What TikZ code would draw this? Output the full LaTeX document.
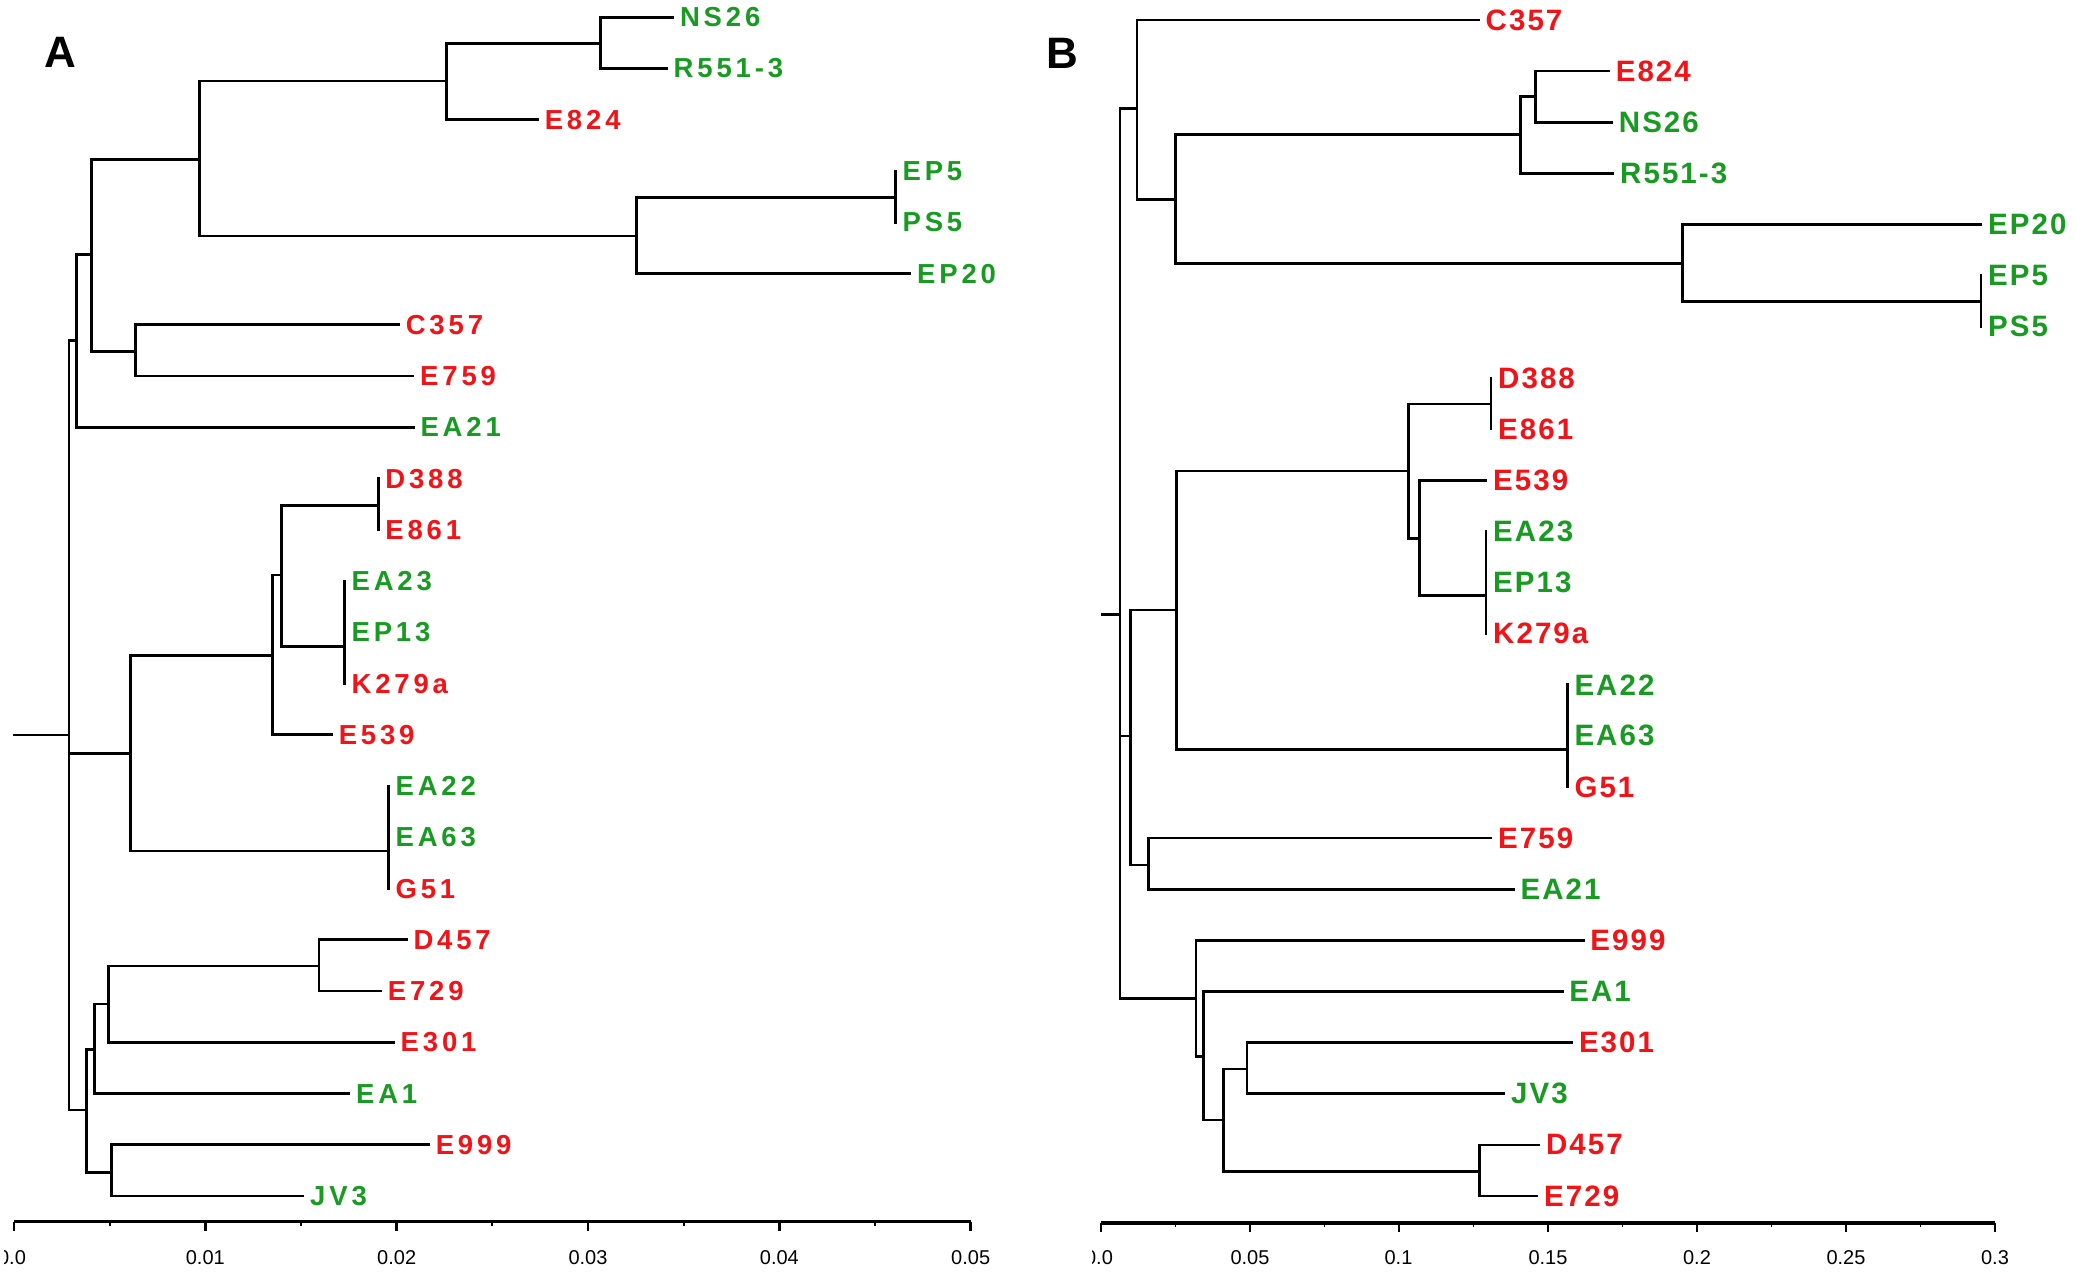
\documentclass[tikz,border=0pt]{standalone}
\usepackage{fontspec}
\setmainfont{Liberation Sans}
\newfontfamily\labAfont{Liberation Sans}[LetterSpace=14]
\newfontfamily\labBfont{Liberation Sans}[LetterSpace=7]
\definecolor{tred}{RGB}{240,20,25}
\definecolor{tgreen}{RGB}{25,155,35}
\begin{document}
\begin{tikzpicture}[x=1pt,y=-1pt,
  br/.style={line width=2.7pt,line cap=rect,black},
  axisline/.style={line width=3.4pt,black},
  leafA/.style={anchor=west,inner xsep=7pt,inner ysep=0pt,font=\labAfont\bfseries\fontsize{27.5}{29}\selectfont},
  leafB/.style={anchor=west,inner xsep=7pt,inner ysep=0pt,font=\labBfont\bfseries\fontsize{29.5}{31}\selectfont},
  rA/.style={leafA,text=tred}, gA/.style={leafA,text=tgreen},
  rB/.style={leafB,text=tred}, gB/.style={leafB,text=tgreen},
  ticklab/.style={font=\fontsize{20}{22}\selectfont,inner sep=0pt},
  panel/.style={font=\bfseries\fontsize{44}{46}\selectfont,inner sep=0pt}]
\useasboundingbox (0,0) rectangle (2075,1272);
\fill[white] (0,0) rectangle (2075,1272);

% ================= Panel A =================
\node[panel] (labA) at (60,52.5) {A};
% leaves
\node[gA] (A-NS26)  at (672.8,17.3)   {NS26};
\node[gA] (A-R551)  at (666.5,68.55)  {R551-3};
\node[rA] (A-E824)  at (537.6,119.8)  {E824};
\node[gA] (A-EP5)   at (895.4,171.05) {EP5};
\node[gA] (A-PS5)   at (895.4,222.3)  {PS5};
\node[gA] (A-EP20)  at (910,273.55)   {EP20};
\node[rA] (A-C357)  at (398.6,324.8)  {C357};
\node[rA] (A-E759)  at (413,376.05)   {E759};
\node[gA] (A-EA21)  at (413.3,427.3)  {EA21};
\node[rA] (A-D388)  at (378.2,478.55) {D388};
\node[rA] (A-E861)  at (378.2,529.8)  {E861};
\node[gA] (A-EA23)  at (344.4,581.05) {EA23};
\node[gA] (A-EP13)  at (344.4,632.3)  {EP13};
\node[rA] (A-K279a) at (344.4,683.55) {K279a};
\node[rA] (A-E539)  at (331.6,734.8)  {E539};
\node[gA] (A-EA22)  at (388.4,786.05) {EA22};
\node[gA] (A-EA63)  at (388.4,837.3)  {EA63};
\node[rA] (A-G51)   at (388.4,888.55) {G51};
\node[rA] (A-D457)  at (406.3,939.8)  {D457};
\node[rA] (A-E729)  at (380.7,991.05) {E729};
\node[rA] (A-E301)  at (393.5,1042.3) {E301};
\node[gA] (A-EA1)   at (348.9,1093.55){EA1};
\node[rA] (A-E999)  at (428.6,1144.8) {E999};
\node[gA] (A-JV3)   at (303,1196.05)  {JV3};
% internal nodes
\coordinate (a-ns)   at (600.8,43.3);
\coordinate (a-e824) at (446.4,81);
\coordinate (a-ep5)  at (895.4,197.7);
\coordinate (a-ep20) at (636.5,236);
\coordinate (a-big)  at (199.6,159.3);
\coordinate (a-c357) at (135.8,351.7);
\coordinate (a-top2) at (91.8,254.3);
\coordinate (a-top1) at (76.5,340.7);
\coordinate (a-root) at (69,735);
\coordinate (a-stub) at (14,735);
\coordinate (a-mid)  at (130.7,753.3);
\coordinate (a-k)    at (272.3,655.7);
\coordinate (a-kk)   at (281.3,575);
\coordinate (a-d388) at (378.2,505.7);
\coordinate (a-ea23) at (344.4,646.7);
\coordinate (a-ea22) at (388.4,851);
\coordinate (a-low)  at (86.7,1110);
\coordinate (a-l1)   at (94.4,1049.3);
\coordinate (a-l3)   at (108.4,1004);
\coordinate (a-d457) at (318.9,966);
\coordinate (a-l2)   at (111.6,1172.3);
% branches
\draw[br] (a-ns) |- (A-NS26.west);
\draw[br] (a-ns) |- (A-R551.west);
\draw[br] (a-e824) |- (a-ns);
\draw[br] (a-e824) |- (A-E824.west);
\draw[br] (a-ep5) |- (A-EP5.west);
\draw[br] (a-ep5) |- (A-PS5.west);
\draw[br] (a-ep20) |- (a-ep5);
\draw[br] (a-ep20) |- (A-EP20.west);
\draw[br] (a-big) |- (a-e824);
\draw[br] (a-big) |- (a-ep20);
\draw[br] (a-c357) |- (A-C357.west);
\draw[br] (a-c357) |- (A-E759.west);
\draw[br] (a-top2) |- (a-big);
\draw[br] (a-top2) |- (a-c357);
\draw[br] (a-top1) |- (a-top2);
\draw[br] (a-top1) |- (A-EA21.west);
\draw[br] (a-root) |- (a-top1);
\draw[br] (a-root) |- (a-mid);
\draw[br] (a-root) |- (a-low);
\draw[br] (a-stub) -- (a-root);
\draw[br] (a-mid) |- (a-k);
\draw[br] (a-mid) |- (a-ea22);
\draw[br] (a-k) |- (a-kk);
\draw[br] (a-k) |- (A-E539.west);
\draw[br] (a-kk) |- (a-d388);
\draw[br] (a-kk) |- (a-ea23);
\draw[br] (a-d388) |- (A-D388.west);
\draw[br] (a-d388) |- (A-E861.west);
\draw[br] (a-ea23) |- (A-EA23.west);
\draw[br] (a-ea23) |- (A-EP13.west);
\draw[br] (a-ea23) |- (A-K279a.west);
\draw[br] (a-ea22) |- (A-EA22.west);
\draw[br] (a-ea22) |- (A-EA63.west);
\draw[br] (a-ea22) |- (A-G51.west);
\draw[br] (a-low) |- (a-l1);
\draw[br] (a-low) |- (a-l2);
\draw[br] (a-l1) |- (a-l3);
\draw[br] (a-l1) |- (A-EA1.west);
\draw[br] (a-l3) |- (a-d457);
\draw[br] (a-l3) |- (A-E301.west);
\draw[br] (a-d457) |- (A-D457.west);
\draw[br] (a-d457) |- (A-E729.west);
\draw[br] (a-l2) |- (A-E999.west);
\draw[br] (a-l2) |- (A-JV3.west);
% axis A
\begin{scope}
\clip (4,1180) rectangle (1050,1272);
\coordinate (axA0) at (14,1221.7);
\coordinate (axA1) at (970.7,1221.7);
\draw[axisline] (axA0) -- (axA1);
\foreach \i in {0,...,5} {
  \draw[line width=2.6pt] (14+191.34*\i,1221.7) -- (14+191.34*\i,1231);
}
\foreach \i in {0,...,4} {
  \draw[line width=1.8pt] (109.67+191.34*\i,1221.7) -- (109.67+191.34*\i,1226);
}
\node[ticklab] (tA0) at (12,1258) {0.0};
\node[ticklab] (tA1) at (205.3,1258) {0.01};
\node[ticklab] (tA2) at (396.7,1258) {0.02};
\node[ticklab] (tA3) at (588,1258) {0.03};
\node[ticklab] (tA4) at (779.4,1258) {0.04};
\node[ticklab] (tA5) at (970.7,1258) {0.05};
\end{scope}

% ================= Panel B =================
\node[panel] (labB) at (1062.6,53) {B};
\node[rB] (B-C357)  at (1478.5,20)    {C357};
\node[rB] (B-E824)  at (1608.6,71.1)  {E824};
\node[gB] (B-NS26)  at (1611.7,122.3) {NS26};
\node[gB] (B-R551)  at (1613,173.4)   {R551-3};
\node[gB] (B-EP20)  at (1981,224.5)   {EP20};
\node[gB] (B-EP5)   at (1981,275.7)   {EP5};
\node[gB] (B-PS5)   at (1981,326.8)   {PS5};
\node[rB] (B-D388)  at (1491,377.9)   {D388};
\node[rB] (B-E861)  at (1491,429)     {E861};
\node[rB] (B-E539)  at (1486,480.2)   {E539};
\node[gB] (B-EA23)  at (1486,531.3)   {EA23};
\node[gB] (B-EP13)  at (1486,582.4)   {EP13};
\node[rB] (B-K279a) at (1486,633.6)   {K279a};
\node[gB] (B-EA22)  at (1567.3,684.7) {EA22};
\node[gB] (B-EA63)  at (1567.3,735.8) {EA63};
\node[rB] (B-G51)   at (1567.3,787)   {G51};
\node[rB] (B-E759)  at (1491,838.1)   {E759};
\node[gB] (B-EA21)  at (1513.4,889.2) {EA21};
\node[rB] (B-E999)  at (1583.2,940.3) {E999};
\node[gB] (B-EA1)   at (1562.2,991.5) {EA1};
\node[rB] (B-E301)  at (1571.8,1042.6){E301};
\node[gB] (B-JV3)   at (1503.9,1093.7){JV3};
\node[rB] (B-D457)  at (1538.8,1144.9){D457};
\node[rB] (B-E729)  at (1536.9,1196)  {E729};
\coordinate (b-root) at (1120,614.3);
\coordinate (b-stub) at (1102.2,614.3);
\coordinate (b-c)    at (1137.1,108.3);
\coordinate (b-e)    at (1175.2,199.3);
\coordinate (b-ens)  at (1520.4,134.7);
\coordinate (b-en)   at (1535.6,96.7);
\coordinate (b-ep)   at (1682.8,263.3);
\coordinate (b-ep5)  at (1981,301.7);
\coordinate (b-m)    at (1130.8,736);
\coordinate (b-mm)   at (1176.4,610);
\coordinate (b-d)    at (1408.7,471);
\coordinate (b-d388) at (1491,404);
\coordinate (b-e5)   at (1419.5,538.3);
\coordinate (b-ea23) at (1486,595.7);
\coordinate (b-g)    at (1567.3,749.3);
\coordinate (b-e7)   at (1148.5,865);
\coordinate (b-l)    at (1196,998.3);
\coordinate (b-l1)   at (1203.7,1056.7);
\coordinate (b-l2)   at (1223.4,1120);
\coordinate (b-l3)   at (1246.9,1069);
\coordinate (b-d457) at (1479.7,1171.7);
\draw[br] (b-stub) -- (b-root);
\draw[br] (b-root) |- (b-c);
\draw[br] (b-root) |- (b-m);
\draw[br] (b-root) |- (b-l);
\draw[br] (b-c) |- (B-C357.west);
\draw[br] (b-c) |- (b-e);
\draw[br] (b-e) |- (b-ens);
\draw[br] (b-e) |- (b-ep);
\draw[br] (b-ens) |- (b-en);
\draw[br] (b-ens) |- (B-R551.west);
\draw[br] (b-en) |- (B-E824.west);
\draw[br] (b-en) |- (B-NS26.west);
\draw[br] (b-ep) |- (B-EP20.west);
\draw[br] (b-ep) |- (b-ep5);
\draw[br] (b-ep5) |- (B-EP5.west);
\draw[br] (b-ep5) |- (B-PS5.west);
\draw[br] (b-m) |- (b-mm);
\draw[br] (b-m) |- (b-e7);
\draw[br] (b-mm) |- (b-d);
\draw[br] (b-mm) |- (b-g);
\draw[br] (b-d) |- (b-d388);
\draw[br] (b-d) |- (b-e5);
\draw[br] (b-d388) |- (B-D388.west);
\draw[br] (b-d388) |- (B-E861.west);
\draw[br] (b-e5) |- (B-E539.west);
\draw[br] (b-e5) |- (b-ea23);
\draw[br] (b-ea23) |- (B-EA23.west);
\draw[br] (b-ea23) |- (B-EP13.west);
\draw[br] (b-ea23) |- (B-K279a.west);
\draw[br] (b-g) |- (B-EA22.west);
\draw[br] (b-g) |- (B-EA63.west);
\draw[br] (b-g) |- (B-G51.west);
\draw[br] (b-e7) |- (B-E759.west);
\draw[br] (b-e7) |- (B-EA21.west);
\draw[br] (b-l) |- (B-E999.west);
\draw[br] (b-l) |- (b-l1);
\draw[br] (b-l1) |- (B-EA1.west);
\draw[br] (b-l1) |- (b-l2);
\draw[br] (b-l2) |- (b-l3);
\draw[br] (b-l2) |- (b-d457);
\draw[br] (b-l3) |- (B-E301.west);
\draw[br] (b-l3) |- (B-JV3.west);
\draw[br] (b-d457) |- (B-D457.west);
\draw[br] (b-d457) |- (B-E729.west);
% axis B
\begin{scope}
\clip (1092,1180) rectangle (2075,1272);
\coordinate (axB0) at (1101,1223);
\coordinate (axB1) at (1995,1223);
\draw[axisline] (axB0) -- (axB1);
\foreach \i in {0,...,6} {
  \draw[line width=2.6pt] (1101+149*\i,1223) -- (1101+149*\i,1232);
}
\foreach \i in {0,...,5} {
  \draw[line width=1.8pt] (1175.5+149*\i,1223) -- (1175.5+149*\i,1227);
}
\node[ticklab] (tB0) at (1099,1258) {0.0};
\node[ticklab] (tB1) at (1250,1258) {0.05};
\node[ticklab] (tB2) at (1398.5,1258) {0.1};
\node[ticklab] (tB3) at (1548,1258) {0.15};
\node[ticklab] (tB4) at (1697,1258) {0.2};
\node[ticklab] (tB5) at (1846,1258) {0.25};
\node[ticklab] (tB6) at (1995,1258) {0.3};
\end{scope}
\end{tikzpicture}
\end{document}
